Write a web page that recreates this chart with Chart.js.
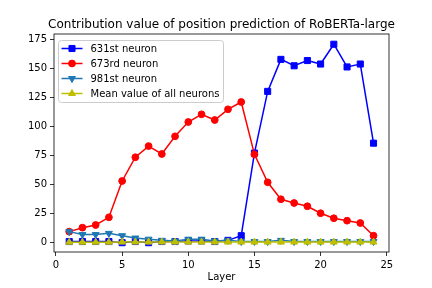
<!DOCTYPE html>
<html>
<head>
<meta charset="utf-8">
<script src="https://cdn.jsdelivr.net/npm/chart.js@4.4.0/dist/chart.umd.min.js"></script>
<style>
  html, body { margin: 0; padding: 0; background: #fff; }
</style>
</head>
<body>
<canvas id="chart" width="432" height="288"></canvas>
<script>
// --- data ---
const layers = [1, 2, 3, 4, 5, 6, 7, 8, 9, 10, 11, 12, 13, 14, 15, 16, 17, 18, 19, 20, 21, 22, 23, 24];
const neuron631 = [1, 1, 1, 1, 0, 1, 0, 1, 1, 1.5, 1.5, 1, 2, 6, 77, 130, 157.5, 152, 156.5, 153.5, 170.5, 151, 153.5, 85.5];
const neuron673 = [9.5, 12.9, 15.2, 21.8, 53, 73.4, 83, 76.2, 91.4, 103.7, 110.3, 105.4, 114.6, 120.9, 75.9, 51.9, 37.3, 34.1, 31.3, 25.3, 21, 18.9, 16.9, 6];
const neuron981 = [9.5, 7, 7, 8, 6, 4, 3, 2, 1.5, 3, 3, 1.5, 2, 1, 1, 1, 2, 1, 1, 1, 1, 1, 1, 1];
const meanAll = [0.4, 0.4, 0.4, 0.4, 0.5, 0.5, 0.5, 0.5, 0.5, 0.5, 0.5, 0.5, 0.5, 0.5, 0.5, 0.5, 0.5, 0.5, 0.5, 0.5, 0.5, 0.5, 0.5, 0.5];
const seriesNames = ['631st neuron', '673rd neuron', '981st neuron', 'Mean value of all neurons'];
const xTicks = [0, 5, 10, 15, 20, 25];
const yTicks = [0, 25, 50, 75, 100, 125, 150, 175];

const FONT = 'DejaVu Sans';

function points(values) {
    return layers.map((x, i) => ({ x: x, y: values[i] }));
}

// marker style for each series (matplotlib-ish)
const styles = [
    { color: '#0000ff', pointStyle: 'rect', radius: 4.3, rotation: 0 },
    { color: '#ff0000', pointStyle: 'circle', radius: 3.4, rotation: 0 },
    { color: '#1f77b4', pointStyle: 'triangle', radius: 4, rotation: 180 },
    { color: '#bfbf00', pointStyle: 'triangle', radius: 4, rotation: 0 }
];
const allValues = [neuron631, neuron673, neuron981, meanAll];

const datasets = allValues.map((vals, i) => ({
    label: seriesNames[i],
    data: points(vals),
    borderColor: styles[i].color,
    backgroundColor: styles[i].color,
    pointBackgroundColor: styles[i].color,
    pointBorderColor: styles[i].color,
    pointStyle: styles[i].pointStyle,
    pointRadius: styles[i].radius,
    pointRotation: styles[i].rotation,
    pointBorderWidth: 1,
    borderWidth: 1.5,
    tension: 0,
    showLine: true,
    order: allValues.length - i   // later series on top, like matplotlib
}));

// frame, title, x label and legend drawn by hand
const decorations = {
    id: 'decorations',
    afterDatasetsDraw(chart) {
        const ctx = chart.ctx;
        const a = chart.chartArea;
        ctx.save();
        ctx.strokeStyle = '#000';
        ctx.lineWidth = 0.8;
        ctx.strokeRect(a.left, a.top, a.right - a.left, a.bottom - a.top);

        // title
        ctx.fillStyle = '#000';
        ctx.font = '12px "' + FONT + '"';
        ctx.textAlign = 'center';
        ctx.textBaseline = 'alphabetic';
        ctx.fillText('Contribution value of position prediction of RoBERTa-large', (a.left + a.right) / 2, a.top - 6);

        // x label
        ctx.font = '10px "' + FONT + '"';
        ctx.textBaseline = 'middle';
        ctx.fillText('Layer', (a.left + a.right) / 2, 277);

        // legend box
        const bx = a.left + 4.5, by = a.top + 6.5, bw = 165, bh = 62, r = 3;
        ctx.beginPath();
        ctx.moveTo(bx + r, by);
        ctx.arcTo(bx + bw, by, bx + bw, by + bh, r);
        ctx.arcTo(bx + bw, by + bh, bx, by + bh, r);
        ctx.arcTo(bx, by + bh, bx, by, r);
        ctx.arcTo(bx, by, bx + bw, by, r);
        ctx.closePath();
        ctx.fillStyle = 'rgba(255,255,255,0.8)';
        ctx.fill();
        ctx.strokeStyle = '#cccccc';
        ctx.lineWidth = 1;
        ctx.stroke();

        ctx.textAlign = 'left';
        seriesNames.forEach((name, i) => {
            const y = by + 8 + i * 15;
            const st = styles[i];
            ctx.strokeStyle = st.color;
            ctx.fillStyle = st.color;
            ctx.lineWidth = 1.5;
            ctx.beginPath();
            ctx.moveTo(bx + 3, y);
            ctx.lineTo(bx + 24, y);
            ctx.stroke();
            ctx.lineWidth = 1;
            Chart.helpers.drawPoint(ctx, {
                pointStyle: st.pointStyle,
                radius: st.radius,
                rotation: st.rotation,
                borderWidth: 1
            }, bx + 13.5, y);
            ctx.fillStyle = '#000';
            ctx.fillText(name, bx + 32, y + 0.5);
        });
        ctx.restore();
    }
};

const tickFont = { family: FONT, size: 10 };

new Chart(document.getElementById('chart'), {
    type: 'scatter',
    data: { datasets: datasets },
    options: {
        responsive: false,
        animation: false,
        layout: { padding: { left: 0, right: 43, top: 34, bottom: 0 } },
        plugins: {
            legend: { display: false },
            title: { display: false },
            tooltip: { enabled: false }
        },
        scales: {
            x: {
                type: 'linear',
                min: -0.15,
                max: 25.17,
                afterBuildTicks: scale => { scale.ticks = xTicks.map(v => ({ value: v })); },
                afterFit: scale => { scale.height = 36; },
                grid: { display: true, drawOnChartArea: false, drawTicks: true, tickLength: 4, tickColor: '#000', tickWidth: 0.8 },
                border: { display: false },
                ticks: { font: tickFont, color: '#000', padding: 3, maxRotation: 0 }
            },
            y: {
                type: 'linear',
                min: -8,
                max: 179.3,
                afterBuildTicks: scale => { scale.ticks = yTicks.map(v => ({ value: v })); },
                afterFit: scale => { scale.width = 54; },
                grid: { display: true, drawOnChartArea: false, drawTicks: true, tickLength: 4, tickColor: '#000', tickWidth: 0.8 },
                border: { display: false },
                ticks: { font: tickFont, color: '#000', padding: 3 }
            }
        }
    },
    plugins: [decorations]
});
</script>
</body>
</html>
